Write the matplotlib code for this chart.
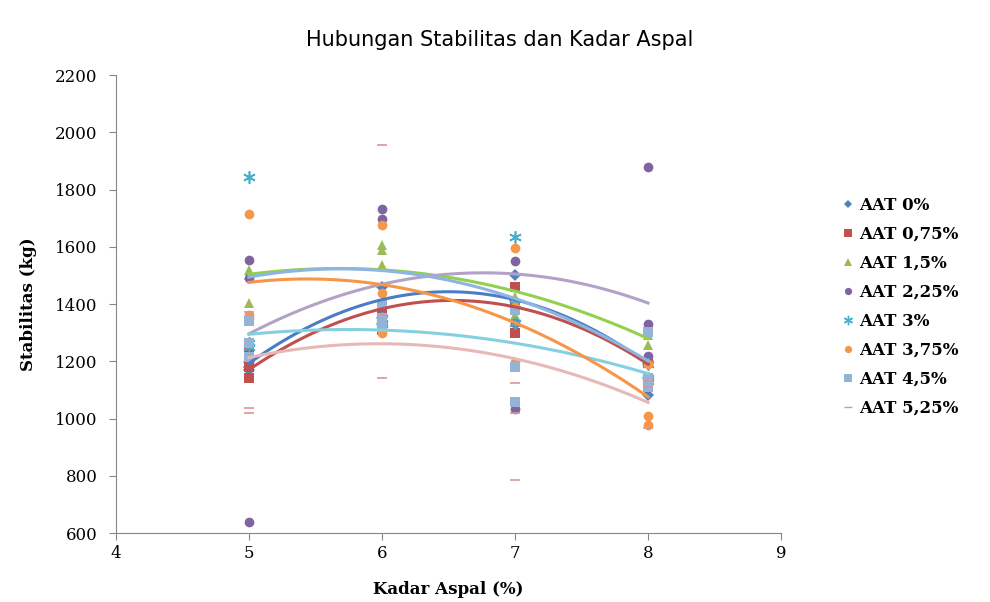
import numpy as np
import matplotlib.pyplot as plt
from matplotlib.lines import Line2D

plt.switch_backend('agg')

# Kadar aspal (%) for each sample, three samples per content
kadar = [5, 5, 5, 6, 6, 6, 7, 7, 7, 8, 8, 8]
kadar_fit = [5, 6, 7, 8]

# Stabilitas (kg) per AAT content
aat_0 = [1197, 1180, 1169, 1459, 1350, 1330, 1501, 1410, 1390, 1190, 1140, 1082]
aat_075 = [1250, 1180, 1141, 1370, 1340, 1310, 1459, 1400, 1299, 1194, 1140, 1130]
aat_15 = [1520, 1500, 1403, 1606, 1590, 1536, 1424, 1390, 1361, 1302, 1290, 1257]
aat_225 = [1553, 1490, 638, 1732, 1697, 1360, 1550, 1333, 1033, 1878, 1330, 1218]
aat_3 = [1843, 1264, 1250, 1350, 1330, 1320, 1634, 1400, 1333, 1190, 1140, 1130]
aat_375 = [1715, 1361, 1350, 1676, 1438, 1299, 1595, 1390, 1197, 1190, 1009, 977]
aat_45 = [1340, 1264, 1215, 1400, 1350, 1320, 1380, 1180, 1058, 1302, 1141, 1110]
aat_525 = [1372, 1037, 1019, 1955, 1360, 1141, 1124, 1019, 785, 1130, 1110, 967]

# trendline values read at kadar 5..8 (polynomial order 2 in the source)
trend_0 = [1194, 1410, 1420, 1190]
trend_075 = [1173, 1375, 1398, 1187]
trend_15 = [1505, 1515, 1449, 1278]
trend_225 = [1299, 1459, 1515, 1400]
trend_3 = [1292, 1315, 1257, 1159]
trend_375 = [1473, 1475, 1327, 1078]
trend_45 = [1498, 1505, 1431, 1197]
trend_525 = [1215, 1255, 1215, 1054]

labels = ['AAT 0%', 'AAT 0,75%', 'AAT 1,5%', 'AAT 2,25%',
          'AAT 3%', 'AAT 3,75%', 'AAT 4,5%', 'AAT 5,25%']
series = [aat_0, aat_075, aat_15, aat_225, aat_3, aat_375, aat_45, aat_525]
trends = [trend_0, trend_075, trend_15, trend_225, trend_3, trend_375, trend_45, trend_525]

colors = ['#4F81BD', '#C0504D', '#9BBB59', '#8064A2', '#4BACC6', '#F79646', '#95B3D7', '#D99694']
line_colors = ['#4A7EC4', '#C0504D', '#92D050', '#B3A2C7', '#86CFE0', '#F79646', '#8EB4E3', '#E6B9B8']
markers = ['D', 's', '^', 'o', (6, 2, 0), 'o', 's', '_']
msizes = [6, 7, 7, 7, 9, 7, 7, 7]

serif = 'DejaVu Serif'

fig = plt.figure(figsize=(9.9, 6.02), dpi=100)
ax = fig.add_axes([0.117, 0.1146, 0.672, 0.7608])

xs = np.linspace(5, 8, 100)
for y, c, m, ms in zip(series, colors, markers, msizes):
    ax.plot(kadar, y, linestyle='none', marker=m, color=c, markersize=ms,
            markeredgewidth=1.2 if m in ((6, 2, 0), '_') else 0)
for t, lc in zip(trends, line_colors):
    coef = np.polyfit(kadar_fit, t, 2)
    ax.plot(xs, np.polyval(coef, xs), color=lc, linewidth=2.2)

ax.set_xlim(4, 9)
ax.set_ylim(600, 2200)
ax.set_xticks(range(4, 10))
ax.set_yticks(range(600, 2201, 200))
for side in ['top', 'right']:
    ax.spines[side].set_visible(False)
for side in ['left', 'bottom']:
    ax.spines[side].set_color('#868686')
ax.tick_params(direction='out', length=5, color='#868686', labelsize=12)
ax.tick_params(axis='y', pad=8)
for lab in ax.get_xticklabels() + ax.get_yticklabels():
    lab.set_fontfamily(serif)

ax.set_xlabel('Kadar Aspal (%)', fontfamily=serif, fontweight='bold', fontsize=12, labelpad=14)
ax.set_ylabel('Stabilitas (kg)', fontfamily=serif, fontweight='bold', fontsize=12, labelpad=13)
fig.text(0.505, 0.933, 'Hubungan Stabilitas dan Kadar Aspal', ha='center', va='center',
         fontsize=15, fontfamily='DejaVu Sans')

handles = [Line2D([], [], linestyle='none', marker=m, color=c, markersize=ms * 0.75,
                  markeredgewidth=1.0 if m in ((6, 2, 0), '_') else 0)
           for c, m, ms in zip(colors, markers, msizes)]
fig.legend(handles, labels, loc='upper left', bbox_to_anchor=(0.836, 0.698), frameon=False,
           handlelength=0.6, handletextpad=0.4, labelspacing=0.72,
           prop={'family': serif, 'weight': 'bold', 'size': 12})

fig.savefig('out.png', dpi=100)
